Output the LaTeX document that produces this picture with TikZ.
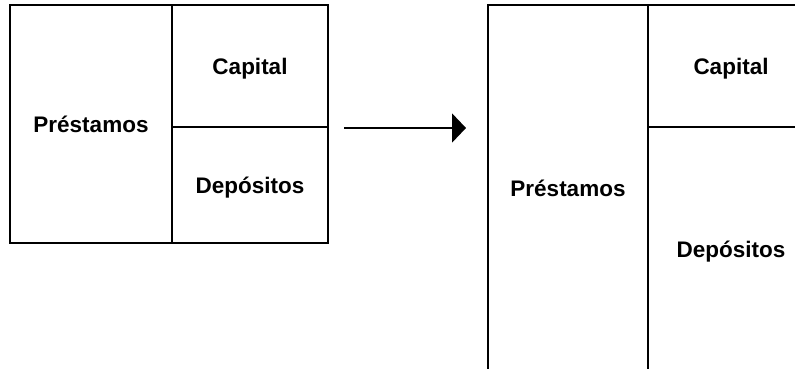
\documentclass[tikz,border=0pt]{standalone}
\usepackage{fontspec}
\setmainfont{Liberation Sans}
\usetikzlibrary{arrows.meta}
\begin{document}
\begin{tikzpicture}[x=1pt, y=-1pt, line width=2pt,
  cell/.style = {draw, rectangle, inner sep=0pt, text depth=0pt, font=\fontsize{22.5}{27}\selectfont\bfseries},
  arr/.style = {-{Triangle[length=14pt, width=29pt]}}]
\clip (0,0) rectangle (795,368);
% before
\node[cell, minimum width=162pt, minimum height=238pt] (presA) at (91,124) {Préstamos};
\node[cell, minimum width=156pt, minimum height=122pt] (capA) at (250,66) {Capital};
\node[cell, minimum width=156pt, minimum height=116pt] (depA) at (250,185) {Depósitos};
% after
\node[cell, minimum width=160pt, minimum height=367pt] (presB) at (568,188.5) {Préstamos};
\node[cell, minimum width=166pt, minimum height=122pt] (capB) at (731,66) {Capital};
\node[cell, minimum width=166pt, minimum height=245pt] (depB) at (731,249.5) {Depósitos};
\draw[arr, shorten <=15pt, shorten >=21pt] (capA.south east) -- (capA.south east -| presB.west);
\end{tikzpicture}
\end{document}
